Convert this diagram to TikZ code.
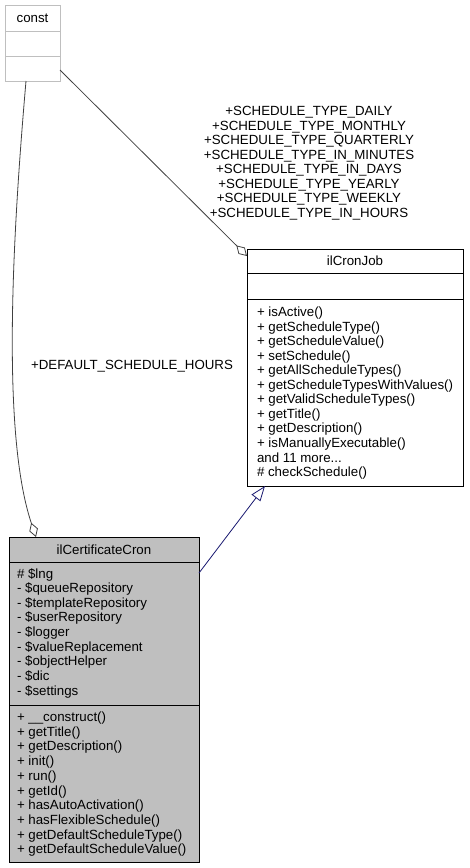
\documentclass[tikz,border=0pt]{standalone}
\usepackage{fontspec}
\setmainfont{Liberation Sans}
\usetikzlibrary{arrows.meta,calc}
\definecolor{boxgray}{HTML}{BFBFBF}
\definecolor{edgegray}{HTML}{404040}
\definecolor{inhblue}{HTML}{191970}
\newcommand{\threedots}{.{}.{}.}
\begin{document}
\begin{tikzpicture}[x=1pt,y=-1pt,
  every node/.style={font=\fontsize{13.3}{14.6}\selectfont, inner sep=0pt, outer sep=0pt},
  umlbox/.style={draw=black, line width=1pt, fill=white, anchor=north west},
  txt/.style={anchor=base west},
  ttl/.style={anchor=base},
  aggr/.style={draw=edgegray, line width=0.8pt, -{Diamond[open,length=15pt,width=9pt]}},
  inher/.style={draw=inhblue, line width=0.8pt, -{Triangle[open,length=15pt,width=11pt]}}]
\useasboundingbox (0,0) rectangle (469,868);

% const box
\node[umlbox, draw=boxgray, minimum width=55pt, minimum height=76pt] (const) at (5,5) {};
\draw[boxgray, line width=1pt] (5,31.5) -- (60,31.5) (5,56) -- (60,56);
\node[ttl] (consttitle) at (32.5,22.5) {const};

% ilCronJob box
\node[umlbox, minimum width=216pt, minimum height=237pt] (cronjob) at (247,249) {};
\draw[line width=1pt] (247,273) -- (463,273) (247,299) -- (463,299);
\node[ttl] (cronjobtitle) at (355,265.5) {ilCronJob};
\foreach \t [count=\i from 0] in {{+ isActive()}, {+ getScheduleType()}, {+ getScheduleValue()}, {+ setSchedule()}, {+ getAllScheduleTypes()}, {+ getScheduleTypesWithValues()}, {+ getValidScheduleTypes()}, {+ getTitle()}, {+ getDescription()}, {+ isManuallyExecutable()}, {and 11 more\threedots}, {\# checkSchedule()}}
  \node[txt] (cj\i) at (257,{316.5+\i*14.55}) {\t};

% ilCertificateCron box
\node[umlbox, fill=boxgray, minimum width=190pt, minimum height=325pt] (cert) at (9,537) {};
\draw[line width=1pt] (9,562) -- (199,562) (9,705) -- (199,705);
\node[ttl] (certtitle) at (104,554) {ilCertificateCron};
\foreach \t [count=\i from 0] in {{\# \$lng}, {- \$queueRepository}, {- \$templateRepository}, {- \$userRepository}, {- \$logger}, {- \$valueReplacement}, {- \$objectHelper}, {- \$dic}, {- \$settings}}
  \node[txt] (ca\i) at (17,{578+\i*14.65}) {\t};
\foreach \t [count=\i from 0] in {{+ \_\_construct()}, {+ getTitle()}, {+ getDescription()}, {+ init()}, {+ run()}, {+ getId()}, {+ hasAutoActivation()}, {+ hasFlexibleSchedule()}, {+ getDefaultScheduleType()}, {+ getDefaultScheduleValue()}}
  \node[txt] (cm\i) at (17,{721.5+\i*14.7}) {\t};

% connectors
\draw[aggr] ($(const.south west)+(21,0)$) .. controls (14,220) and (0,430) .. ($(cert.north west)+(27,0)$);
\draw[aggr] ($(const.south east)+(0,-11)$) -- ($(cronjob.north west)+(0,7)$);
\draw[inher] ($(cert.north east)+(0,36)$) -- ($(cronjob.south west)+(18,0)$);

% labels
\node (lblhours) at (132,366) {+DEFAULT\_SCHEDULE\_HOURS};
\node[align=center, font=\fontsize{13.3}{14.5}\selectfont] (lblsched) at (309,163) {+SCHEDULE\_TYPE\_DAILY\\+SCHEDULE\_TYPE\_MONTHLY\\+SCHEDULE\_TYPE\_QUARTERLY\\+SCHEDULE\_TYPE\_IN\_MINUTES\\+SCHEDULE\_TYPE\_IN\_DAYS\\+SCHEDULE\_TYPE\_YEARLY\\+SCHEDULE\_TYPE\_WEEKLY\\+SCHEDULE\_TYPE\_IN\_HOURS};
\end{tikzpicture}
\end{document}
